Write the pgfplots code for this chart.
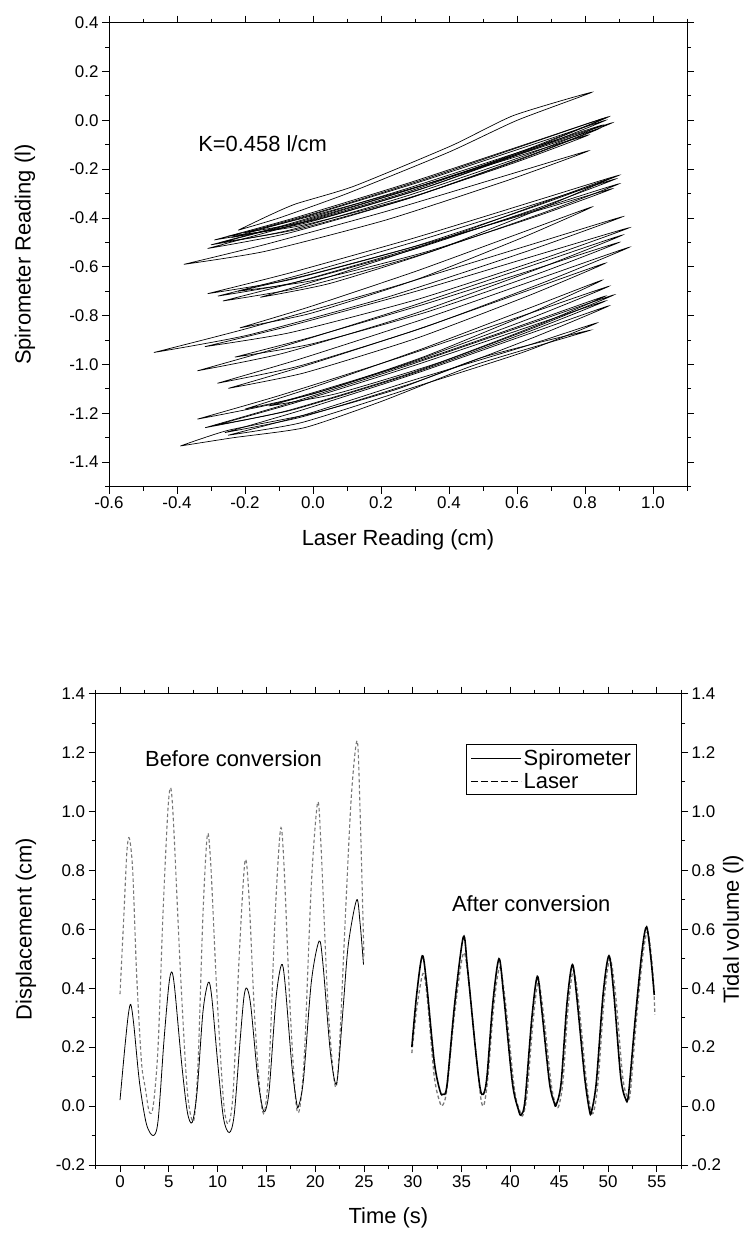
\documentclass[border=0pt]{standalone}
\usepackage{fontspec}
\setmainfont{Liberation Sans}
\usepackage{pgfplots}
\pgfplotsset{compat=1.18}
\definecolor{lasergray}{RGB}{120,120,120}
\begin{document}
\begin{tikzpicture}
\useasboundingbox (0,0) rectangle (744bp,-1237bp);
\pgfplotsset{
  mystyle/.style={
    scale only axis,
    axis line style={line width=1bp},
    tick align=outside,
    tick style={black, line width=0.9bp},
    major tick length=7bp,
    minor tick length=4bp,
    tick label style={font=\fontsize{17}{20}\selectfont},
    /pgf/number format/assume math mode=true,
  },
  loop/.style={black, line width=0.7bp, smooth, tension=0.35},
}
% ---------------- top plot ----------------
\begin{axis}[mystyle, at={(109bp,-486.5bp)}, anchor=south west,
  width=578bp, height=463.8bp,
  xmin=-0.6, xmax=1.1, ymin=-1.5, ymax=0.4,
  xtick={-0.6,-0.4,-0.2,0,0.2,0.4,0.6,0.8,1.0},
  minor xtick={-0.5,-0.3,-0.1,0.1,0.3,0.5,0.7,0.9,1.1},
  ytick={-1.4,-1.2,-1.0,-0.8,-0.6,-0.4,-0.2,0,0.2,0.4},
  minor ytick={-1.5,-1.3,-1.1,-0.9,-0.7,-0.5,-0.3,-0.1,0.1,0.3},
  x tick label style={/pgf/number format/.cd, fixed, fixed zerofill, precision=1, /tikz/.cd},
  y tick label style={/pgf/number format/.cd, fixed, fixed zerofill, precision=1, /tikz/.cd},
  xlabel={Laser Reading (cm)}, ylabel={Spirometer Reading (l)},
  every axis x label/.style={at={(axis description cs:0.5,0)}, yshift=-53bp, anchor=center, font=\fontsize{22}{26}\selectfont},
  every axis y label/.style={at={(axis description cs:0,0.5)}, xshift=-84bp, anchor=center, rotate=90, font=\fontsize{22}{26}\selectfont},
]
% group A
\addplot[loop] coordinates {(-0.29,-0.49)(-0.06,-0.402)(0.285,-0.255)(0.63,-0.096)(0.86,0.01)(0.63,-0.118)(0.285,-0.29)(-0.06,-0.43)(-0.29,-0.49)};
\addplot[loop] coordinates {(-0.31,-0.525)(-0.072,-0.434)(0.285,-0.283)(0.642,-0.119)(0.88,-0.01)(0.642,-0.141)(0.285,-0.318)(-0.072,-0.462)(-0.31,-0.525)};
\addplot[loop] coordinates {(-0.22,-0.45)(-0.13,-0.39)(-0.05,-0.342)(0.12,-0.27)(0.407,-0.104)(0.59,0.02)(0.82,0.115)(0.6,0.0)(0.4,-0.13)(0.1,-0.30)(-0.1,-0.40)(-0.22,-0.45)};
\addplot[loop] coordinates {(-0.38,-0.59)(-0.142,-0.509)(0.215,-0.373)(0.572,-0.224)(0.81,-0.125)(0.572,-0.246)(0.215,-0.408)(-0.142,-0.537)(-0.38,-0.59)};
\addplot[loop] coordinates {(-0.25,-0.475)(-0.038,-0.404)(0.28,-0.283)(0.598,-0.149)(0.81,-0.06)(0.598,-0.171)(0.28,-0.318)(-0.038,-0.432)(-0.25,-0.475)};
\addplot[loop] coordinates {(-0.2,-0.46)(0.014,-0.377)(0.335,-0.238)(0.656,-0.086)(0.87,0.015)(0.656,-0.108)(0.335,-0.273)(0.014,-0.405)(-0.2,-0.46)};
\addplot[loop] coordinates {(-0.27,-0.50)(-0.048,-0.419)(0.285,-0.283)(0.618,-0.134)(0.84,-0.035)(0.618,-0.156)(0.285,-0.318)(-0.048,-0.447)(-0.27,-0.50)};
\addplot[loop] coordinates {(-0.24,-0.48)(-0.02,-0.394)(0.31,-0.254)(0.64,-0.102)(0.86,0.0)(0.64,-0.122)(0.31,-0.285)(-0.02,-0.42)(-0.24,-0.48)};
\addplot[loop] coordinates {(-0.30,-0.51)(-0.07,-0.424)(0.275,-0.28)(0.62,-0.124)(0.85,-0.02)(0.62,-0.146)(0.275,-0.31)(-0.07,-0.45)(-0.30,-0.51)};
% group B
\addplot[loop] coordinates {(-0.31,-0.71)(-0.068,-0.625)(0.295,-0.483)(0.658,-0.328)(0.90,-0.225)(0.658,-0.35)(0.295,-0.518)(-0.068,-0.653)(-0.31,-0.71)};
\addplot[loop] coordinates {(-0.265,-0.74)(-0.032,-0.656)(0.318,-0.515)(0.667,-0.362)(0.90,-0.26)(0.667,-0.384)(0.318,-0.55)(-0.032,-0.684)(-0.265,-0.74)};
\addplot[loop] coordinates {(-0.155,-0.725)(0.05,-0.64)(0.358,-0.498)(0.665,-0.343)(0.87,-0.24)(0.665,-0.365)(0.358,-0.533)(0.05,-0.668)(-0.155,-0.725)};
\addplot[loop] coordinates {(-0.22,-0.70)(0.0,-0.628)(0.33,-0.505)(0.66,-0.37)(0.88,-0.28)(0.66,-0.392)(0.33,-0.54)(0.0,-0.656)(-0.22,-0.70)};
\addplot[loop] coordinates {(-0.28,-0.72)(-0.046,-0.636)(0.305,-0.495)(0.656,-0.342)(0.89,-0.24)(0.656,-0.362)(0.305,-0.525)(-0.046,-0.662)(-0.28,-0.72)};
% group C
\addplot[loop] coordinates {(-0.468,-0.951)(-0.192,-0.852)(0.221,-0.688)(0.634,-0.512)(0.91,-0.395)(0.634,-0.534)(0.221,-0.723)(-0.192,-0.88)(-0.468,-0.951)};
\addplot[loop] coordinates {(-0.318,-0.927)(-0.068,-0.842)(0.306,-0.699)(0.68,-0.543)(0.93,-0.44)(0.68,-0.565)(0.306,-0.734)(-0.068,-0.87)(-0.318,-0.927)};
\addplot[loop] coordinates {(-0.215,-0.85)(-0.008,-0.763)(0.303,-0.618)(0.613,-0.46)(0.82,-0.355)(0.613,-0.482)(0.303,-0.653)(-0.008,-0.791)(-0.215,-0.85)};
\addplot[loop] coordinates {(-0.34,-1.026)(-0.09,-0.927)(0.285,-0.763)(0.66,-0.587)(0.91,-0.47)(0.66,-0.609)(0.285,-0.798)(-0.09,-0.955)(-0.34,-1.026)};
\addplot[loop] coordinates {(-0.281,-1.077)(-0.039,-0.978)(0.325,-0.814)(0.688,-0.637)(0.93,-0.52)(0.688,-0.659)(0.325,-0.849)(-0.039,-1.006)(-0.281,-1.077)};
\addplot[loop] coordinates {(-0.249,-1.098)(-0.027,-1.007)(0.306,-0.857)(0.638,-0.694)(0.86,-0.585)(0.638,-0.716)(0.306,-0.892)(-0.027,-1.035)(-0.249,-1.098)};
\addplot[loop] coordinates {(-0.23,-0.97)(-0.004,-0.888)(0.335,-0.75)(0.674,-0.60)(0.90,-0.50)(0.674,-0.622)(0.335,-0.785)(-0.004,-0.916)(-0.23,-0.97)};
% group D
\addplot[loop] coordinates {(-0.2,-1.183)(0.01,-1.089)(0.325,-0.934)(0.64,-0.767)(0.85,-0.655)(0.64,-0.789)(0.325,-0.969)(0.01,-1.117)(-0.2,-1.183)};
\addplot[loop] coordinates {(-0.34,-1.224)(-0.098,-1.127)(0.265,-0.967)(0.628,-0.795)(0.87,-0.68)(0.628,-0.817)(0.265,-1.002)(-0.098,-1.155)(-0.34,-1.224)};
\addplot[loop] coordinates {(-0.317,-1.259)(-0.077,-1.162)(0.284,-1.002)(0.645,-0.83)(0.885,-0.715)(0.645,-0.852)(0.284,-1.037)(-0.077,-1.19)(-0.317,-1.259)};
\addplot[loop] coordinates {(-0.259,-1.279)(-0.033,-1.187)(0.306,-1.035)(0.644,-0.87)(0.87,-0.76)(0.644,-0.892)(0.306,-1.07)(-0.033,-1.215)(-0.259,-1.279)};
\addplot[loop] coordinates {(-0.39,-1.334)(-0.25,-1.27)(0.0,-1.2)(0.25,-1.1)(0.5,-0.97)(0.815,-0.86)(0.48,-1.0)(0.2,-1.152)(-0.025,-1.259)(-0.234,-1.30)(-0.39,-1.334)};
\addplot[loop] coordinates {(-0.25,-1.29)(-0.033,-1.21)(0.293,-1.065)(0.618,-0.928)(0.835,-0.83)(0.618,-0.95)(0.293,-1.095)(-0.033,-1.238)(-0.25,-1.29)};
\addplot[loop] coordinates {(-0.13,-1.17)(0.068,-1.092)(0.365,-0.96)(0.662,-0.816)(0.86,-0.72)(0.662,-0.838)(0.365,-0.995)(0.068,-1.12)(-0.13,-1.17)};
\addplot[loop] coordinates {(-0.29,-1.25)(-0.06,-1.16)(0.285,-1.01)(0.63,-0.848)(0.86,-0.74)(0.63,-0.868)(0.285,-1.04)(-0.06,-1.186)(-0.29,-1.25)};
\node[anchor=west, font=\fontsize{22}{26}\selectfont, inner sep=0pt] at (axis cs:-0.338,-0.095) {K=0.458 l/cm};
\end{axis}
% ---------------- bottom plot ----------------
\begin{axis}[mystyle, at={(95.6bp,-1165bp)}, anchor=south west,
  width=585.6bp, height=471.5bp,
  xmin=-2.5, xmax=57.5, ymin=-0.2, ymax=1.4,
  xtick={0,5,10,15,20,25,30,35,40,45,50,55},
  minor xtick={-2.5,2.5,7.5,12.5,17.5,22.5,27.5,32.5,37.5,42.5,47.5,52.5,57.5},
  ytick={-0.2,0,0.2,0.4,0.6,0.8,1.0,1.2,1.4},
  minor ytick={-0.1,0.1,0.3,0.5,0.7,0.9,1.1,1.3},
  y tick label style={/pgf/number format/.cd, fixed, fixed zerofill, precision=1, /tikz/.cd},
  xlabel={Time (s)}, ylabel={Displacement (cm)},
  every axis x label/.style={at={(axis description cs:0.5,0)}, yshift=-53bp, anchor=center, font=\fontsize{22}{26}\selectfont},
  every axis y label/.style={at={(axis description cs:0,0.5)}, xshift=-69.6bp, anchor=center, rotate=90, font=\fontsize{22}{26}\selectfont},
  legend style={at={(axis cs:53.0,1.228)}, anchor=north east, draw=black, line width=0.9bp,
    font=\fontsize{22}{25}\selectfont, inner xsep=4bp, inner ysep=3bp, row sep=2bp,
    cells={anchor=west}, /tikz/column 2/.style={column sep=4bp}},
  legend image code/.code={\draw[#1] (0bp,0bp) -- (50bp,0bp);},
]
\addlegendimage{black, solid, line width=0.8bp}
\addlegendentry{Spirometer}
\addlegendimage{black, dash pattern=on 6.5bp off 3.5bp, line width=0.8bp}
\addlegendentry{Laser}
% before conversion: laser
\addplot[lasergray, line width=1.1bp, dash pattern=on 3.5bp off 2.5bp, smooth, tension=0.5, forget plot] coordinates {
(0,0.38)(0.4,0.65)(0.7,0.86)(0.95,0.91)(1.3,0.80)(1.7,0.45)(2.2,0.15)(2.6,0.06)(3.0,-0.02)(3.4,0.0)
(3.9,0.2)(4.4,0.65)(4.9,1.0)(5.2,1.08)(5.5,0.95)(6.2,0.45)(6.9,0.05)(7.55,-0.05)(8.0,0.15)(8.5,0.65)
(8.95,0.92)(9.3,0.82)(9.9,0.40)(10.6,0.02)(11.1,-0.06)(11.6,0.05)(12.2,0.50)(12.8,0.83)(13.2,0.72)
(13.8,0.30)(14.4,0.03)(14.8,-0.02)(15.3,0.15)(15.9,0.65)(16.45,0.94)(16.8,0.82)(17.4,0.35)(18.0,0.02)
(18.4,-0.01)(18.9,0.18)(19.6,0.75)(20.25,1.03)(20.6,0.88)(21.3,0.35)(22.0,0.075)(22.4,0.15)(23.1,0.65)
(23.7,1.05)(24.3,1.24)(24.6,1.0)(25.0,0.50)};
% before conversion: spirometer
\addplot[black, line width=0.8bp, smooth, tension=0.5, forget plot] coordinates {
(0,0.02)(0.5,0.2)(0.85,0.31)(1.1,0.345)(1.4,0.28)(2.0,0.08)(2.7,-0.06)(3.4,-0.10)(3.9,-0.05)(4.5,0.22)
(5.0,0.41)(5.3,0.455)(5.6,0.40)(6.3,0.15)(6.9,-0.02)(7.4,-0.055)(7.9,0.05)(8.5,0.32)(9.05,0.42)(9.4,0.37)
(10.0,0.15)(10.6,-0.04)(11.2,-0.09)(11.7,-0.03)(12.3,0.22)(12.7,0.37)(13.0,0.40)(13.4,0.34)(14.1,0.10)
(14.6,-0.005)(14.9,-0.015)(15.3,0.06)(16.0,0.37)(16.55,0.48)(16.9,0.42)(17.6,0.14)(18.1,0.01)(18.3,0.0)
(18.8,0.09)(19.6,0.42)(20.4,0.56)(20.8,0.48)(21.5,0.20)(22.0,0.085)(22.3,0.10)(22.9,0.35)(23.4,0.55)
(24.25,0.70)(24.6,0.62)(24.95,0.48)};
% after conversion: laser
\addplot[lasergray, line width=1.3bp, dash pattern=on 3.5bp off 2.5bp, smooth, tension=0.5, forget plot] coordinates {
(29.9,0.18)(30.4,0.33)(31.05,0.45)(31.5,0.36)(32.2,0.10)(32.8,0.01)(33.1,0.005)(33.5,0.06)(34.3,0.32)
(35.2,0.52)(35.8,0.40)(36.6,0.14)(37.0,0.02)(37.3,0.005)(37.7,0.1)(38.3,0.34)(38.9,0.47)(39.5,0.35)
(40.4,0.06)(41.0,-0.02)(41.3,-0.03)(41.7,0.04)(42.3,0.28)(42.85,0.42)(43.4,0.31)(44.2,0.07)(44.7,0.0)
(45.0,0.005)(45.4,0.09)(45.9,0.33)(46.45,0.46)(47.0,0.35)(47.8,0.08)(48.3,-0.02)(48.6,-0.01)(49.0,0.09)
(49.6,0.36)(50.2,0.50)(50.8,0.37)(51.5,0.10)(52.0,0.03)(52.3,0.05)(52.9,0.29)(53.6,0.52)(54.1,0.59)
(54.6,0.45)(54.8,0.31)};
% after conversion: spirometer
\addplot[black, line width=1.6bp, smooth, tension=0.5, forget plot] coordinates {
(29.9,0.20)(30.4,0.38)(30.97,0.51)(31.4,0.42)(32.2,0.15)(32.8,0.05)(33.1,0.04)(33.5,0.07)(34.3,0.35)
(35.18,0.574)(35.6,0.47)(36.4,0.20)(36.9,0.06)(37.23,0.04)(37.6,0.1)(38.2,0.35)(38.83,0.50)(39.3,0.38)
(40.2,0.08)(40.8,-0.01)(41.1,-0.03)(41.5,0.02)(42.2,0.30)(42.76,0.44)(43.2,0.33)(44.0,0.08)(44.5,0.01)
(44.7,0.005)(45.2,0.08)(45.8,0.35)(46.35,0.48)(46.8,0.37)(47.6,0.10)(48.1,-0.015)(48.3,-0.02)(48.8,0.08)
(49.5,0.38)(50.1,0.51)(50.6,0.38)(51.3,0.10)(51.8,0.025)(52.1,0.04)(52.8,0.30)(53.5,0.53)(53.96,0.608)
(54.4,0.50)(54.74,0.377)};
\node[anchor=west, font=\fontsize{22}{26}\selectfont, inner sep=0pt] at (axis cs:2.56,1.18) {Before conversion};
\node[anchor=west, font=\fontsize{22}{26}\selectfont, inner sep=0pt] at (axis cs:34.0,0.686) {After conversion};
\end{axis}
% right axis of bottom plot
\begin{axis}[mystyle, at={(95.6bp,-1165bp)}, anchor=south west,
  width=585.6bp, height=471.5bp,
  xmin=-2.5, xmax=57.5, ymin=-0.2, ymax=1.4,
  axis x line=none, axis y line*=right, tick align=outside,
  ytick={-0.2,0,0.2,0.4,0.6,0.8,1.0,1.2,1.4},
  minor ytick={-0.1,0.1,0.3,0.5,0.7,0.9,1.1,1.3},
  y tick label style={/pgf/number format/.cd, fixed, fixed zerofill, precision=1, /tikz/.cd},
  ylabel={Tidal volume (l)},
  every axis y label/.style={at={(axis description cs:1,0.5)}, xshift=52bp, anchor=center, rotate=90, font=\fontsize{22}{26}\selectfont},
]
\end{axis}
\end{tikzpicture}
\end{document}
